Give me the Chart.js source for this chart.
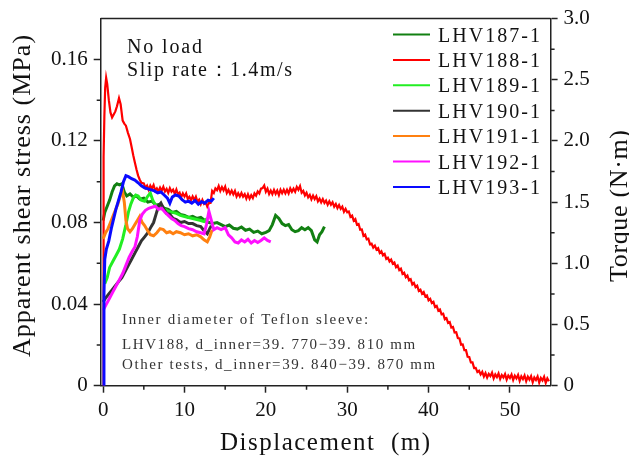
<!DOCTYPE html>
<html>
<head>
<meta charset="utf-8">
<script src="https://cdn.jsdelivr.net/npm/chart.js@4"></script>
<style>
  html, body { margin: 0; padding: 0; background: #fff; }
  #wrap { width: 629px; height: 456px; }
</style>
</head>
<body>
<div id="wrap"><canvas id="chart"></canvas></div>
<script>
// Test names and colours
const testNames = ['LHV187-1', 'LHV188-1', 'LHV189-1', 'LHV190-1', 'LHV191-1', 'LHV192-1', 'LHV193-1'];
const testColors = ['#128012', '#ff0000', '#22ee22', '#333333', '#ff8010', '#ff10ff', '#0a0aff'];

// Axis ticks
const xTicks = [0, 10, 20, 30, 40, 50];
const xMinor = [5, 15, 25, 35, 45];
const stressTicks = [0, 0.04, 0.08, 0.12, 0.16];
const stressMinor = [0.02, 0.06, 0.10, 0.14];
const torqueTicks = [0, 0.5, 1.0, 1.5, 2.0, 2.5, 3.0];
const torqueMinor = [0.25, 0.75, 1.25, 1.75, 2.25, 2.75];

// [displacement (m), apparent shear stress (MPa)]
const lhv187 = [
  [0, 0.081], [0.2, 0.085], [0.5, 0.088], [0.8, 0.091], [1.1, 0.095], [1.4, 0.098], [1.7, 0.099],
  [2.0, 0.0985], [2.3, 0.099], [2.6, 0.095], [2.9, 0.093], [3.3, 0.094], [3.7, 0.0925], [4.1, 0.093],
  [4.5, 0.0915], [5.0, 0.092], [5.5, 0.090], [6.0, 0.0905], [6.5, 0.0885], [7.0, 0.089], [7.5, 0.087],
  [8.0, 0.0865], [8.5, 0.085], [9.0, 0.0855], [9.5, 0.084], [10.0, 0.0835], [10.5, 0.0825], [11.0, 0.083],
  [11.5, 0.082], [12.0, 0.0825], [12.5, 0.081], [13.0, 0.080], [13.5, 0.0795], [14.0, 0.0800], [14.5, 0.0790],
  [15.0, 0.0780], [15.5, 0.0788], [16.0, 0.0772], [16.5, 0.0768], [17.0, 0.0778], [17.5, 0.0762], [18.0, 0.0768],
  [18.5, 0.0752], [19.0, 0.0758], [19.5, 0.0745], [20.0, 0.0752], [20.4, 0.0760], [20.8, 0.0790], [21.2, 0.0835],
  [21.6, 0.0820], [22.0, 0.0795], [22.4, 0.0785], [22.8, 0.0790], [23.2, 0.0765], [23.6, 0.0755], [24.0, 0.0760],
  [24.4, 0.0775], [24.8, 0.0765], [25.2, 0.0775], [25.6, 0.0760], [26.0, 0.0715], [26.3, 0.0705], [26.6, 0.0740],
  [26.9, 0.0755], [27.2, 0.0780]
];

const lhv188 = [
  [0, 0], [0.03, 0.06], [0.08, 0.112], [0.15, 0.132], [0.25, 0.146], [0.37, 0.151], [0.5, 0.148], [0.7, 0.140],
  [0.9, 0.134], [1.1, 0.1315], [1.3, 0.133], [1.5, 0.1345], [1.7, 0.137], [1.95, 0.141], [2.15, 0.138], [2.4, 0.130],
  [2.6, 0.1285], [2.8, 0.1275], [3.05, 0.124], [3.3, 0.121], [3.5, 0.117], [3.7, 0.113], [3.9, 0.1095], [4.1, 0.106],
  [4.3, 0.103], [4.5, 0.101], [4.7, 0.0995],
  [5.0, 0.0992], [5.2, 0.0970], [5.4, 0.0981], [5.6, 0.0960], [5.8, 0.0981], [6.0, 0.0967], [6.2, 0.0984], [6.4, 0.0957],
  [6.6, 0.0968], [6.8, 0.0952], [7.0, 0.0971], [7.2, 0.0956], [7.4, 0.0975], [7.6, 0.0952], [7.8, 0.0965], [8.0, 0.0945],
  [8.2, 0.0968], [8.4, 0.0951], [8.6, 0.0961], [8.8, 0.0941], [9.0, 0.0962], [9.2, 0.0938], [9.4, 0.0947], [9.6, 0.0924],
  [9.8, 0.0943], [10.0, 0.0927], [10.2, 0.0943], [10.4, 0.0916], [10.6, 0.0926], [10.8, 0.0910], [11.0, 0.0928],
  [11.2, 0.0911], [11.4, 0.0927], [11.6, 0.0902], [11.8, 0.0912], [12.0, 0.0890], [12.2, 0.0911], [12.4, 0.0892],
  [12.6, 0.0900], [12.8, 0.0878], [13.0, 0.0896], [13.2, 0.0896], [13.4, 0.0955],
  [13.6, 0.0945], [13.8, 0.0968], [14.0, 0.0959], [14.2, 0.0979], [14.4, 0.0955], [14.6, 0.0974], [14.8, 0.0958],
  [15.0, 0.0976], [15.2, 0.0945], [15.4, 0.0960], [15.6, 0.0941], [15.8, 0.0957], [16.0, 0.0938], [16.2, 0.0955],
  [16.4, 0.0928], [16.6, 0.0944], [16.8, 0.0928], [17.0, 0.0945], [17.2, 0.0927], [17.4, 0.0939], [17.6, 0.0917],
  [17.8, 0.0938], [18.0, 0.0917], [18.2, 0.0934], [18.4, 0.0920], [18.6, 0.0943], [18.8, 0.0932], [19.0, 0.0953],
  [19.2, 0.0943], [19.4, 0.0966], [19.6, 0.0969], [19.8, 0.0982], [20.0, 0.0951], [20.2, 0.0966], [20.4, 0.0940],
  [20.6, 0.0957], [20.8, 0.0939], [21.0, 0.0960], [21.2, 0.0941], [21.4, 0.0957], [21.6, 0.0935], [21.8, 0.0961],
  [22.0, 0.0944], [22.2, 0.0961], [22.4, 0.0943], [22.6, 0.0961], [22.8, 0.0943], [23.0, 0.0967], [23.2, 0.0951],
  [23.4, 0.0966], [23.6, 0.0951], [23.8, 0.0975], [24.0, 0.0961], [24.2, 0.0979],
  [24.4, 0.0946], [24.6, 0.0955], [24.8, 0.0933], [25.0, 0.0946], [25.2, 0.0924], [25.4, 0.0936], [25.6, 0.0914],
  [25.8, 0.0932], [26.0, 0.0915], [26.2, 0.0929], [26.4, 0.0904], [26.6, 0.0917], [26.8, 0.0899], [27.0, 0.0915],
  [27.2, 0.0896], [27.4, 0.0908], [27.6, 0.0887], [27.8, 0.0904], [28.0, 0.0887], [28.2, 0.0900], [28.4, 0.0878],
  [28.6, 0.0891], [28.8, 0.0871], [29.0, 0.0886], [29.2, 0.0867], [29.4, 0.0878], [29.6, 0.0853], [29.8, 0.0867],
  [30.0, 0.0850], [30.2, 0.0854], [30.4, 0.0828], [30.6, 0.0834], [30.8, 0.0809], [31.0, 0.0817], [31.2, 0.0789],
  [31.4, 0.0793], [31.6, 0.0765], [31.8, 0.0766], [32.0, 0.0735], [32.2, 0.0741], [32.4, 0.0718], [32.6, 0.0721],
  [32.8, 0.0693], [33.0, 0.0696],
  [33.2, 0.0677], [33.4, 0.0687], [33.6, 0.0667], [33.8, 0.0674], [34.0, 0.0651], [34.2, 0.0659], [34.4, 0.0639],
  [34.6, 0.0646], [34.8, 0.0622], [35.0, 0.0628], [35.2, 0.0609], [35.4, 0.0618], [35.6, 0.0598], [35.8, 0.0604],
  [36.0, 0.0581], [36.2, 0.0589], [36.4, 0.0567], [36.6, 0.0574], [36.8, 0.0548], [37.0, 0.0554], [37.2, 0.0532],
  [37.4, 0.0540], [37.6, 0.0517], [37.8, 0.0522], [38.0, 0.0496], [38.2, 0.0504], [38.4, 0.0483], [38.6, 0.0490],
  [38.8, 0.0465], [39.0, 0.0471], [39.2, 0.0451], [39.4, 0.0459], [39.6, 0.0438], [39.8, 0.0443], [40.0, 0.0419],
  [40.2, 0.0426], [40.4, 0.0405], [40.6, 0.0411], [40.8, 0.0386], [41.0, 0.0391], [41.2, 0.0368], [41.4, 0.0374],
  [41.6, 0.0350], [41.8, 0.0353], [42.0, 0.0326], [42.2, 0.0331], [42.4, 0.0308], [42.6, 0.0312], [42.8, 0.0285],
  [43.0, 0.0288], [43.2, 0.0261], [43.4, 0.0262], [43.6, 0.0234], [43.8, 0.0232], [44.0, 0.0201], [44.2, 0.0202],
  [44.4, 0.0174], [44.6, 0.0174], [44.8, 0.0142], [45.0, 0.0141], [45.2, 0.0114], [45.4, 0.0114], [45.6, 0.0086],
  [45.8, 0.0087], [46.0, 0.0067], [46.2, 0.0073],
  [46.4, 0.0055], [46.6, 0.0068], [46.8, 0.0045], [47.0, 0.0062], [47.2, 0.0040], [47.4, 0.0058], [47.6, 0.0047],
  [47.8, 0.0064], [48.0, 0.0036], [48.2, 0.0055], [48.4, 0.0042], [48.6, 0.0060], [48.8, 0.0033], [49.0, 0.0052],
  [49.2, 0.0040], [49.4, 0.0057], [49.6, 0.0030], [49.8, 0.0050], [50.0, 0.0038], [50.2, 0.0055], [50.4, 0.0028],
  [50.6, 0.0049], [50.8, 0.0036], [51.0, 0.0053], [51.2, 0.0024], [51.4, 0.0046], [51.6, 0.0032], [51.8, 0.0050],
  [52.0, 0.0022], [52.2, 0.0044], [52.4, 0.0030], [52.6, 0.0047], [52.8, 0.0017], [53.0, 0.0040], [53.2, 0.0028],
  [53.4, 0.0045], [53.6, 0.0015], [53.8, 0.0038], [54.0, 0.0026], [54.2, 0.0044], [54.4, 0.0014], [54.6, 0.0036],
  [54.8, 0.0022]
];

const lhv189 = [
  [0.2, 0.050], [0.5, 0.053], [0.8, 0.058], [1.2, 0.061], [1.6, 0.064], [2.0, 0.067], [2.4, 0.072], [2.8, 0.079],
  [3.1, 0.085], [3.4, 0.089], [3.7, 0.092], [4.0, 0.0935], [4.3, 0.093], [4.7, 0.091], [5.1, 0.0905], [5.5, 0.093],
  [5.8, 0.0945], [6.1, 0.091], [6.5, 0.088], [7.0, 0.087], [7.5, 0.0865], [8.0, 0.0855], [8.5, 0.085], [9.0, 0.0845],
  [9.5, 0.0835], [10.0, 0.083], [10.5, 0.0825], [11.0, 0.082], [11.5, 0.0815], [12.0, 0.081], [12.4, 0.0805], [12.8, 0.082]
];

const lhv190 = [
  [0, 0.041], [0.3, 0.043], [0.7, 0.045], [1.1, 0.047], [1.5, 0.049], [1.9, 0.051], [2.3, 0.053], [2.7, 0.056],
  [3.1, 0.059], [3.5, 0.062], [3.9, 0.065], [4.3, 0.068], [4.7, 0.071], [5.1, 0.073], [5.5, 0.075], [5.9, 0.078],
  [6.2, 0.080], [6.5, 0.084], [6.8, 0.088], [7.1, 0.0895], [7.4, 0.087], [7.8, 0.0845], [8.2, 0.084], [8.6, 0.082],
  [9.0, 0.0815], [9.5, 0.080], [10.0, 0.0805], [10.5, 0.0795], [11.0, 0.0795], [11.5, 0.0785], [12.0, 0.078],
  [12.4, 0.076], [12.8, 0.0745], [13.1, 0.077], [13.3, 0.0785]
];

const lhv191 = [
  [0, 0.072], [0.3, 0.075], [0.6, 0.077], [0.9, 0.080], [1.2, 0.083], [1.5, 0.086], [1.8, 0.089], [2.1, 0.093],
  [2.4, 0.095], [2.6, 0.090], [2.8, 0.081], [3.0, 0.077], [3.3, 0.0755], [3.6, 0.077], [3.9, 0.079], [4.2, 0.081],
  [4.5, 0.083], [4.8, 0.080], [5.1, 0.0785], [5.4, 0.0765], [5.8, 0.074], [6.2, 0.0735], [6.6, 0.075], [7.0, 0.077],
  [7.4, 0.0765], [7.8, 0.075], [8.2, 0.0755], [8.6, 0.0745], [9.0, 0.0755], [9.5, 0.075], [10.0, 0.074], [10.5, 0.0745],
  [11.0, 0.0735], [11.5, 0.074], [12.0, 0.073], [12.4, 0.0715], [12.8, 0.0705], [13.1, 0.073], [13.4, 0.0765]
];

const lhv192 = [
  [0, 0.037], [0.4, 0.040], [0.8, 0.043], [1.2, 0.046], [1.6, 0.049], [2.0, 0.052], [2.4, 0.055], [2.8, 0.059],
  [3.2, 0.063], [3.6, 0.066], [3.9, 0.068], [4.2, 0.073], [4.5, 0.081], [4.8, 0.084], [5.2, 0.086], [5.6, 0.087],
  [6.0, 0.0875], [6.4, 0.088], [6.8, 0.0865], [7.2, 0.087], [7.6, 0.085], [8.0, 0.0835], [8.4, 0.082], [8.8, 0.081],
  [9.2, 0.0795], [9.6, 0.0785], [10.0, 0.078], [10.5, 0.077], [11.0, 0.0765], [11.5, 0.0755], [12.0, 0.075],
  [12.4, 0.0745], [12.7, 0.079], [13.0, 0.0855], [13.3, 0.081], [13.6, 0.0765], [14.0, 0.0775], [14.5, 0.0765],
  [15.0, 0.0775], [15.4, 0.074], [15.8, 0.0725], [16.2, 0.0705], [16.6, 0.070], [17.0, 0.0715], [17.4, 0.0705],
  [17.8, 0.0718], [18.2, 0.0700], [18.6, 0.0712], [19.0, 0.0702], [19.4, 0.0712], [19.8, 0.0725], [20.2, 0.0712],
  [20.6, 0.0705]
];

const lhv193 = [
  [0, 0], [0.1, 0.045], [0.2, 0.062], [0.4, 0.067], [0.7, 0.071], [1.0, 0.077], [1.3, 0.082], [1.6, 0.087],
  [1.9, 0.091], [2.2, 0.095], [2.5, 0.100], [2.8, 0.103], [3.1, 0.1025], [3.5, 0.1015], [3.9, 0.1008], [4.3, 0.0995],
  [4.7, 0.098], [5.1, 0.097], [5.5, 0.0965], [5.9, 0.096], [6.3, 0.0955], [6.7, 0.0945], [7.1, 0.095], [7.5, 0.0935],
  [7.9, 0.092], [8.2, 0.0895], [8.5, 0.0925], [8.9, 0.0935], [9.3, 0.093], [9.7, 0.0912], [10.1, 0.090], [10.5, 0.0905],
  [10.9, 0.0895], [11.3, 0.0908], [11.7, 0.089], [12.1, 0.0902], [12.5, 0.0895], [12.9, 0.091], [13.3, 0.0905], [13.6, 0.092]
];

const series = [lhv187, lhv188, lhv189, lhv190, lhv191, lhv192, lhv193];
// lower order is drawn in front
const drawOrder = [7, 6, 5, 4, 3, 2, 1];

const SERIF = "'Liberation Serif', 'Times New Roman', serif";
const INK = '#111';
const AXIS = '#222';

// draw text starting at x, spread with letter spacing to the given width
function spacedText(ctx, text, x, y, width) {
  ctx.letterSpacing = '0px';
  const w = ctx.measureText(text).width;
  const gap = (width - w) / Math.max(1, text.length - 1);
  ctx.letterSpacing = gap.toFixed(2) + 'px';
  ctx.fillText(text, x, y);
  ctx.letterSpacing = '0px';
}

const extras = {
  id: 'extras',
  afterDraw(chart) {
    const { ctx, chartArea: a, scales } = chart;
    ctx.save();

    // top frame line and minor ticks
    ctx.strokeStyle = AXIS;
    ctx.lineWidth = 1.5;
    ctx.beginPath();
    ctx.moveTo(a.left, a.top);
    ctx.lineTo(a.right, a.top);
    xMinor.forEach(v => {
      const p = scales.x.getPixelForValue(v);
      ctx.moveTo(p, a.bottom);
      ctx.lineTo(p, a.bottom + 4);
    });
    stressMinor.forEach(v => {
      const p = scales.y.getPixelForValue(v);
      ctx.moveTo(a.left, p);
      ctx.lineTo(a.left - 4, p);
    });
    torqueMinor.forEach(v => {
      const p = scales.y2.getPixelForValue(v);
      ctx.moveTo(a.right, p);
      ctx.lineTo(a.right + 4, p);
    });
    ctx.stroke();

    ctx.fillStyle = INK;
    ctx.textAlign = 'left';
    ctx.textBaseline = 'alphabetic';

    // axis titles
    ctx.font = `25px ${SERIF}`;
    spacedText(ctx, 'Displacement  (m)', 220, 450, 210);

    ctx.save();
    ctx.translate(30, 357);
    ctx.rotate(-Math.PI / 2);
    ctx.font = `26px ${SERIF}`;
    spacedText(ctx, 'Apparent shear stress (MPa)', 0, 0, 322);
    ctx.restore();

    ctx.save();
    ctx.translate(627, 282);
    ctx.rotate(-Math.PI / 2);
    ctx.font = `26px ${SERIF}`;
    spacedText(ctx, 'Torque (N·m)', 0, 0, 152);
    ctx.restore();

    // test conditions
    ctx.font = `20px ${SERIF}`;
    spacedText(ctx, 'No load', 127, 53, 75);
    spacedText(ctx, 'Slip rate：1.4m/s', 127, 76, 165);

    ctx.fillStyle = '#333';
    ctx.font = `15px ${SERIF}`;
    spacedText(ctx, 'Inner diameter of Teflon sleeve:', 122, 324, 246);
    spacedText(ctx, 'LHV188, d_inner=39. 770−39. 810 mm', 122, 349, 293);
    spacedText(ctx, 'Other tests, d_inner=39. 840−39. 870 mm', 122, 369, 313);

    // legend
    ctx.font = `20px ${SERIF}`;
    chart.data.datasets.forEach((ds, i) => {
      const y = 34.5 + i * 25.4;
      ctx.strokeStyle = ds.borderColor;
      ctx.lineWidth = 2;
      ctx.beginPath();
      ctx.moveTo(393, y);
      ctx.lineTo(430, y);
      ctx.stroke();
      ctx.fillStyle = INK;
      spacedText(ctx, ds.label, 438, y + 7, 102);
    });

    ctx.restore();
  }
};

const tickFont = { family: SERIF, size: 21 };

new Chart(document.getElementById('chart'), {
  type: 'line',
  data: {
    datasets: series.map((pts, i) => ({
      label: testNames[i],
      data: pts.map(([x, y]) => ({ x, y })),
      borderColor: testColors[i],
      borderWidth: i === 1 ? 2.2 : 3,
      pointRadius: 0,
      tension: 0,
      fill: false,
      order: drawOrder[i],
      xAxisID: 'x',
      yAxisID: 'y'
    }))
  },
  options: {
    responsive: true,
    maintainAspectRatio: false,
    animation: false,
    events: [],
    layout: { padding: { top: 15, left: 0, right: 0, bottom: 0 } },
    plugins: {
      legend: { display: false },
      tooltip: { enabled: false }
    },
    scales: {
      x: {
        type: 'linear',
        position: 'bottom',
        min: -0.3,
        max: 55,
        afterBuildTicks: s => { s.ticks = xTicks.map(v => ({ value: v })); },
        afterFit: s => { s.height = 70.3; },
        grid: { drawOnChartArea: false, tickLength: 7, tickColor: AXIS, tickWidth: 1.5 },
        border: { color: AXIS, width: 1.5 },
        ticks: { font: tickFont, color: INK, padding: 5, maxRotation: 0, callback: v => String(v) }
      },
      y: {
        type: 'linear',
        position: 'left',
        min: 0,
        max: 0.18,
        afterBuildTicks: s => { s.ticks = stressTicks.map(v => ({ value: v })); },
        afterFit: s => { s.width = 100.7; },
        grid: { drawOnChartArea: false, tickLength: 7, tickColor: AXIS, tickWidth: 1.5 },
        border: { color: AXIS, width: 1.5 },
        ticks: { font: tickFont, color: INK, padding: 6, callback: v => (v === 0 ? '0' : v.toFixed(2)) }
      },
      y2: {
        type: 'linear',
        position: 'right',
        min: 0,
        max: 3.0,
        afterBuildTicks: s => { s.ticks = torqueTicks.map(v => ({ value: v })); },
        afterFit: s => { s.width = 78.4; },
        grid: { drawOnChartArea: false, tickLength: 7, tickColor: AXIS, tickWidth: 1.5 },
        border: { color: AXIS, width: 1.5 },
        ticks: { font: tickFont, color: INK, padding: 6, callback: v => (v === 0 ? '0' : v.toFixed(1)) }
      }
    }
  },
  plugins: [extras]
});
</script>
</body>
</html>
